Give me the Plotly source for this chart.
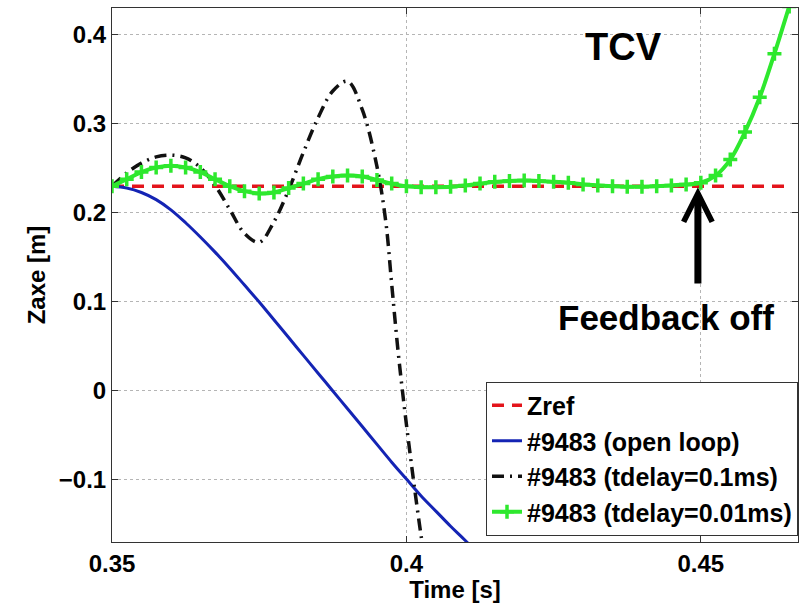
import plotly.graph_objects as go

# ---- data ----
zref_t = [0.35, 0.465]
zref_v = [0.23, 0.23]

open_t = [0.35, 0.3525, 0.355, 0.3575, 0.36, 0.3625, 0.365, 0.3675, 0.37, 0.3725,
          0.375, 0.3775, 0.38, 0.3825, 0.385, 0.3875, 0.39, 0.3925, 0.395, 0.3975,
          0.40, 0.4025, 0.405, 0.4075, 0.41, 0.4125]
open_v = [0.230, 0.228, 0.223, 0.215, 0.2035, 0.189, 0.173, 0.156, 0.138, 0.119,
          0.100, 0.080, 0.060, 0.040, 0.020, 0.000, -0.020, -0.040, -0.060, -0.080,
          -0.099, -0.118, -0.135, -0.152, -0.168, -0.185]

d01_t = [0.35, 0.3525, 0.355, 0.3575, 0.36, 0.3625, 0.365, 0.3675, 0.37, 0.3725,
         0.375, 0.3775, 0.38, 0.3825, 0.385, 0.3875, 0.39, 0.3925, 0.395, 0.3965,
         0.3975, 0.3985, 0.3995, 0.401, 0.4025, 0.4035]
d01_v = [0.230, 0.245, 0.256, 0.263, 0.265, 0.262, 0.251, 0.231, 0.204, 0.177,
         0.167, 0.190, 0.226, 0.268, 0.307, 0.337, 0.348, 0.316, 0.252, 0.190,
         0.120, 0.050, -0.010, -0.090, -0.163, -0.205]

d001_t = [0.35, 0.3525, 0.355, 0.3575, 0.36, 0.3625, 0.365, 0.3675, 0.37, 0.3725,
          0.375, 0.3775, 0.38, 0.3825, 0.385, 0.3875, 0.39, 0.3925, 0.395, 0.3975,
          0.40, 0.4025, 0.405, 0.4075, 0.41, 0.4125, 0.415, 0.4175, 0.42, 0.4225,
          0.425, 0.4275, 0.43, 0.4325, 0.435, 0.4375, 0.44, 0.4425, 0.445, 0.4475,
          0.45, 0.4525, 0.455, 0.4575, 0.46, 0.4625, 0.465]
d001_v = [0.230, 0.238, 0.246, 0.251, 0.253, 0.251, 0.246, 0.238, 0.230, 0.2245,
          0.222, 0.223, 0.228, 0.233, 0.238, 0.241, 0.242, 0.241, 0.237, 0.233,
          0.230, 0.229, 0.229, 0.2295, 0.231, 0.233, 0.235, 0.236, 0.2365, 0.236,
          0.235, 0.234, 0.232, 0.231, 0.230, 0.2295, 0.2295, 0.230, 0.231, 0.232,
          0.234, 0.242, 0.260, 0.291, 0.330, 0.379, 0.432]

x_ticks = [0.35, 0.40, 0.45]
x_labels = ["0.35", "0.4", "0.45"]
y_ticks = [-0.1, 0.0, 0.1, 0.2, 0.3, 0.4]
y_labels = ["\u22120.1", "0", "0.1", "0.2", "0.3", "0.4"]

FONT = "Liberation Sans, Arial, sans-serif"

fig = go.Figure()
fig.add_trace(go.Scatter(x=zref_t, y=zref_v, mode="lines", name="Zref",
                         line=dict(color="#e3141b", width=3.5, dash="12px,8px")))
fig.add_trace(go.Scatter(x=open_t, y=open_v, mode="lines", name="#9483 (open loop)",
                         line=dict(color="#1424b4", width=3, shape="spline")))
fig.add_trace(go.Scatter(x=d01_t, y=d01_v, mode="lines", name="#9483 (tdelay=0.1ms)",
                         line=dict(color="#111111", width=3.5, dash="12px,6px,2px,6px",
                                   shape="spline")))
fig.add_trace(go.Scatter(x=d001_t, y=d001_v, mode="lines+markers",
                         name="#9483 (tdelay=0.01ms)",
                         line=dict(color="#2ee82e", width=4, shape="spline"),
                         marker=dict(symbol="cross-thin", size=10, color="#2ee82e",
                                     line=dict(color="#2ee82e", width=3.5))))

fig.add_annotation(text="TCV", x=0.4368, y=0.3865, xref="x", yref="y", showarrow=False,
                   font=dict(family=FONT, size=38, color="black", weight="bold"))
fig.add_annotation(text="Feedback off", x=0.4441, y=0.082, xref="x", yref="y",
                   showarrow=False,
                   font=dict(family=FONT, size=35, color="black", weight="bold"))
fig.add_annotation(text="", x=0.4495, y=0.229, ax=0.4495, ay=0.119,
                   xref="x", yref="y", axref="x", ayref="y",
                   showarrow=True, arrowhead=5, arrowsize=0.8, arrowwidth=7,
                   arrowcolor="black", standoff=0)

axis_common = dict(showline=True, linecolor="#333333", linewidth=1, mirror="allticks",
                   ticks="inside", ticklen=6, tickcolor="#333333",
                   showgrid=True, gridcolor="#b5b5b5", griddash="dot", gridwidth=1,
                   zeroline=False,
                   tickfont=dict(family=FONT, size=24, color="black", weight="bold"))

fig.update_xaxes(range=[0.35, 0.4665], tickvals=x_ticks, ticktext=x_labels,
                 title=dict(text="Time [s]", standoff=0,
                            font=dict(family=FONT, size=24, color="black", weight="bold")),
                 **axis_common)
fig.update_yaxes(range=[-0.1697, 0.4303], tickvals=y_ticks, ticktext=y_labels,
                 title=dict(text="Zaxe [m]", standoff=6,
                            font=dict(family=FONT, size=24, color="black", weight="bold")),
                 **axis_common)

fig.update_layout(
    width=801, height=603,
    margin=dict(l=112, r=3, t=8, b=61),
    paper_bgcolor="white", plot_bgcolor="white",
    showlegend=True,
    legend=dict(x=1, y=0.012, xanchor="right", yanchor="bottom",
                bgcolor="white", bordercolor="#333333", borderwidth=1,
                font=dict(family=FONT, size=25, color="black", weight="bold"),
                tracegroupgap=0, itemwidth=30),
)

fig.write_html("out.html")
